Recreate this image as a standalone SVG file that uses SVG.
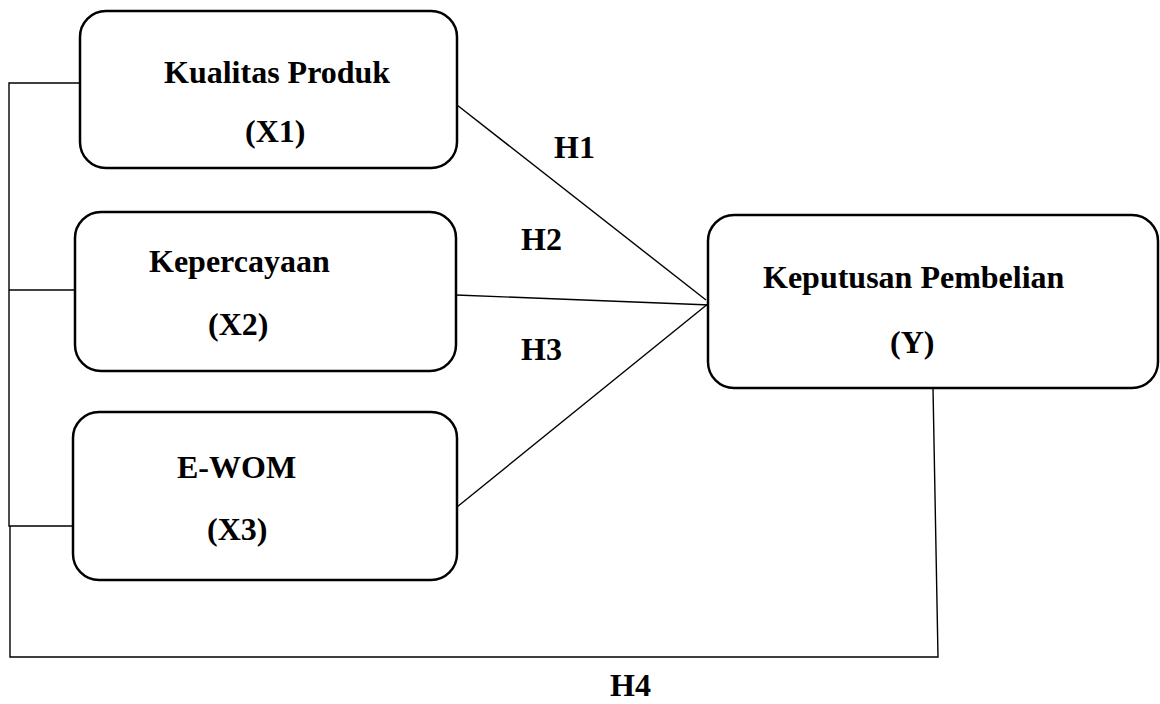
<svg xmlns="http://www.w3.org/2000/svg" width="1160" height="704" viewBox="0 0 1160 704">
<style>
.box{fill:#fff;stroke:#000;stroke-width:2.5}
.t{font-family:"Liberation Serif","Times New Roman",serif;font-weight:bold;font-size:32px;fill:#000}
.c{fill:none;stroke:#000;stroke-width:1.4}
</style>
<rect width="1160" height="704" fill="#fff"/>
<g id="connectors">
<polyline class="c" points="80,83 9,83 9,526 73,526"/>
<line class="c" x1="9" y1="290" x2="75" y2="290"/>
<polyline class="c" points="10,526 10,657 938,657 933,388"/>
<line class="c" x1="457" y1="105" x2="706" y2="300"/>
<line class="c" x1="456" y1="295" x2="710" y2="305"/>
<line class="c" x1="457" y1="507" x2="709" y2="303"/>
<text class="t" x="554" y="158">H1</text>
<text class="t" x="521" y="250">H2</text>
<text class="t" x="521" y="360">H3</text>
<text class="t" x="610" y="696">H4</text>
</g>
<g id="x1">
<rect class="box" x="80" y="11" width="377" height="157" rx="26"/>
<text class="t" x="164" y="83">Kualitas Produk</text>
<text class="t" x="245" y="142">(X1)</text>
</g>
<g id="x2">
<rect class="box" x="75" y="212" width="381" height="159" rx="26"/>
<text class="t" x="149" y="272">Kepercayaan</text>
<text class="t" x="208" y="335">(X2)</text>
</g>
<g id="x3">
<rect class="box" x="73" y="412" width="384" height="168" rx="26"/>
<text class="t" x="177" y="478">E-WOM</text>
<text class="t" x="207" y="540">(X3)</text>
</g>
<g id="y">
<rect class="box" x="708" y="215" width="450" height="173" rx="26"/>
<text class="t" x="763" y="288">Keputusan Pembelian</text>
<text class="t" x="890" y="353">(Y)</text>
</g>
</svg>
